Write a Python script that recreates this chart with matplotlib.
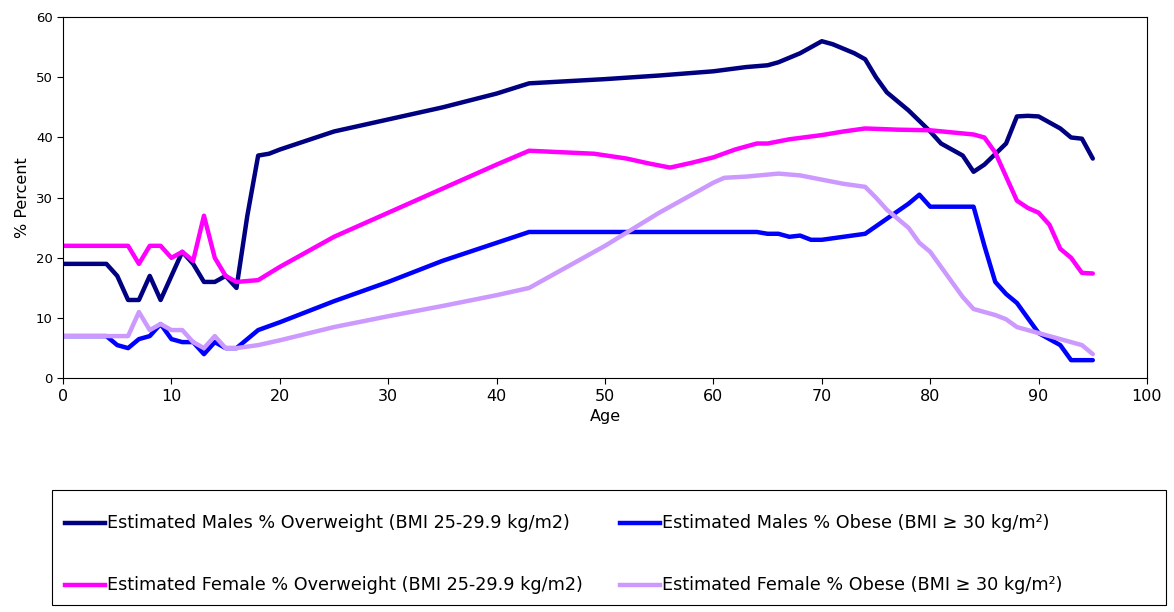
import matplotlib
matplotlib.use("Agg")
import matplotlib.pyplot as plt
from matplotlib.lines import Line2D
from matplotlib.patches import Rectangle

mo_x = [0,1,2,3,4,5,6,7,8,9,10,11,12,13,14,15,16,17,18,19,20,25,30,35,40,43,50,55,60,63,65,66,68,70,71,73,74,75,76,77,78,80,81,83,84,85,87,88,89,90,91,92,93,94,95]
mo_y = [19,19,19,19,19,17,13,13,17,13,17,21,19,16,16,17,15,27,37,37.3,38,41,43,45,47.3,49,49.7,50.3,51,51.7,52,52.5,54,56,55.5,54,53,50,47.5,46,44.5,41,39,37,34.3,35.5,39,43.5,43.6,43.5,42.5,41.5,40,39.8,36.5]

fo_x = [0,5,6,7,8,9,10,11,12,13,14,15,16,18,20,25,30,35,40,43,49,52,54,56,58,60,62,64,65,67,70,72,74,77,80,84,85,86,87,88,89,90,91,92,93,94,95]
fo_y = [22,22,22,19,22,22,20,21,19.5,27,20,17,16,16.3,18.5,23.5,27.5,31.5,35.5,37.8,37.3,36.5,35.7,35,35.8,36.7,38,39,39,39.7,40.4,41,41.5,41.3,41.2,40.5,40,37.5,33.5,29.5,28.3,27.5,25.5,21.5,20,17.5,17.4]

mb_x = [0,4,5,6,7,8,9,10,11,12,13,14,15,16,18,20,25,30,35,40,43,50,60,64,65,66,67,68,69,70,72,74,76,78,79,80,83,84,85,86,87,88,89,90,91,92,93,95]
mb_y = [7,7,5.5,5,6.5,7,9,6.5,6,6,4,6,5,5,8,9.3,12.8,16,19.5,22.5,24.3,24.3,24.3,24.3,24,24,23.5,23.7,23,23,23.5,24,26.5,29,30.5,28.5,28.5,28.5,22,16,14,12.5,10,7.5,6.5,5.5,3,3]

fb_x = [0,5,6,7,8,9,10,11,12,13,14,15,16,18,20,25,30,35,40,43,50,55,60,61,63,66,68,70,72,74,75,76,78,79,80,81,82,83,84,86,87,88,90,92,94,95]
fb_y = [7,7,7,11,8,9,8,8,6,5,7,5,5,5.5,6.3,8.5,10.3,12,13.8,15,22,27.5,32.5,33.3,33.5,34,33.7,33,32.3,31.8,30,28,25,22.5,21,18.5,16,13.5,11.5,10.5,9.8,8.5,7.5,6.5,5.5,4]

labels = ["Estimated Males % Overweight (BMI 25-29.9 kg/m2)",
          "Estimated Males % Obese (BMI \u2265 30 kg/m\u00b2)",
          "Estimated Female % Overweight (BMI 25-29.9 kg/m2)",
          "Estimated Female % Obese (BMI \u2265 30 kg/m\u00b2)"]
colors = ["#000080", "#0000FF", "#FF00FF", "#CC99FF"]
xs = [mo_x, mb_x, fo_x, fb_x]
ys = [mo_y, mb_y, fo_y, fb_y]

fig = plt.figure(figsize=(11.74, 6.12), dpi=100)
ax = fig.add_axes([0.0537, 0.382, 0.9233, 0.590])
for lab, x, y, c in zip(labels, xs, ys, colors):
    ax.plot(x, y, color=c, lw=3.2, solid_joinstyle="round", solid_capstyle="round", label=lab)
ax.set_xlim(0, 100)
ax.set_ylim(0, 60)
ax.set_xticks(range(0, 101, 10))
ax.set_yticks(range(0, 61, 10))
ax.tick_params(axis="x", labelsize=11.5, direction="out", length=4)
ax.tick_params(axis="y", labelsize=9.5, direction="out", length=4)
ax.set_xlabel("Age", fontsize=11.5)
ax.set_ylabel("% Percent", fontsize=11.5)

W, H = 1174, 612
fig.add_artist(Rectangle((52 / W, 7 / H), (1166 - 52) / W, (605 - 490) / H,
                         transform=fig.transFigure, fill=False, edgecolor="black", lw=0.8))
for i in range(4):
    col, row = i % 2, i // 2
    x0 = [65, 620][col] / W
    y0 = 1 - [523, 585][row] / H
    fig.add_artist(Line2D([x0, x0 + 40 / W], [y0, y0], transform=fig.transFigure,
                          color=colors[i], lw=3.2))
    fig.text(x0 + 42 / W, y0, labels[i], fontsize=12.7, va="center", ha="left")
fig.savefig("out.png", dpi=100)
